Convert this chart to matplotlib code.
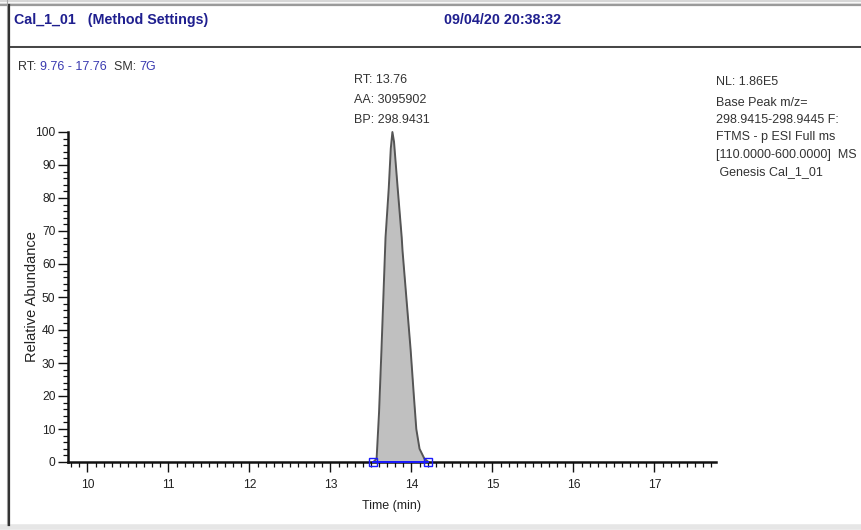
import matplotlib
matplotlib.use("Agg")
import matplotlib.pyplot as plt
from matplotlib.lines import Line2D
from matplotlib.ticker import MultipleLocator
from matplotlib import font_manager

# ---- data ----
peak_time = [13.53, 13.57, 13.60, 13.63, 13.655, 13.68, 13.72, 13.745, 13.765,
             13.785, 13.83, 13.88, 13.89, 13.95, 13.99, 14.03, 14.06, 14.10, 14.16, 14.21]
peak_abund = [0, 1, 15, 34, 51, 68, 83, 95, 100,
              97, 83, 68, 64, 46, 34, 20, 10, 4, 1, 0]
baseline_time = [13.53, 14.21]
x_ticks = [10, 11, 12, 13, 14, 15, 16, 17]
y_ticks = [0, 10, 20, 30, 40, 50, 60, 70, 80, 90, 100]
x_range = (9.76, 17.76)

header_left = "Cal_1_01   (Method Settings)"
header_date = "09/04/20 20:38:32"
peak_labels = ["RT: 13.76", "AA: 3095902", "BP: 298.9431"]
info_lines = ["Base Peak m/z=", "298.9415-298.9445 F:", "FTMS - p ESI Full ms",
              "[110.0000-600.0000]  MS", " Genesis Cal_1_01"]

# narrow font if available
try:
    font_manager.findfont("Liberation Sans Narrow", fallback_to_default=False)
    NARROW = ['Liberation Sans Narrow', 'DejaVu Sans']
    k = 1.0
except Exception:
    NARROW = ['Liberation Sans', 'DejaVu Sans']
    k = 0.82

W, H = 861, 530
plt.rcParams['font.family'] = ['Liberation Sans', 'DejaVu Sans']
fig = plt.figure(figsize=(W / 100, H / 100), dpi=100)
fig.patch.set_facecolor('white')

def fx(x):
    return x / W

def fy(y):
    return 1 - y / H

# ---- frame ----
def hline(y, x0, x1, color, lw):
    fig.add_artist(Line2D([fx(x0), fx(x1)], [fy(y), fy(y)], color=color, lw=lw,
                          transform=fig.transFigure))

def vline(x, y0, y1, color, lw):
    fig.add_artist(Line2D([fx(x), fx(x)], [fy(y0), fy(y1)], color=color, lw=lw,
                          transform=fig.transFigure))

hline(0.5, 0, W, '#d0d0d0', 1.2)
hline(2.5, 0, W, '#e0e0e0', 1.0)
hline(5, 0, W, '#9a9a9a', 1.6)
hline(45.5, 9, W, '#c8c8c8', 0.8)
hline(47.3, 9, W, '#444444', 1.4)
hline(527, 0, W, '#e6e6e6', 4)
vline(7, 0, 525, '#aaaaaa', 0.8)
vline(9, 5, 525, '#333333', 1.6)

# ---- header ----
navy = '#1f1f8f'
fig.text(fx(14), fy(20), header_left, color=navy, fontsize=12.5 * k, fontweight='bold',
         va='center', ha='left', family=NARROW)
fig.text(fx(444), fy(20), header_date, color=navy, fontsize=12.5 * k, fontweight='bold',
         va='center', ha='left', family=NARROW)

# ---- RT / SM line with mixed colours ----
dark = '#333333'
blue = '#3a3ab0'
pieces = [("RT: ", dark), ("9.76 - 17.76", blue), ("  SM: ", dark), ("7G", blue)]
renderer = fig.canvas.get_renderer()
xpos = 18
for txt, col in pieces:
    t = fig.text(fx(xpos), fy(67), txt, color=col, fontsize=11 * k, va='center',
                 ha='left', family=NARROW)
    bb = t.get_window_extent(renderer=renderer)
    xpos += bb.width

# ---- axes ----
ax = fig.add_axes([fx(68), fy(462), fx(716) - fx(68), fy(132) - fy(462)])
ax.set_xlim(*x_range)
ax.set_ylim(0, 100)
ax.fill_between(peak_time, peak_abund, 0, color='#c0c0c0', lw=0, clip_on=False)
ax.plot(peak_time, peak_abund, color='#555555', lw=1.4, clip_on=False)
ax.plot(baseline_time, [0, 0], color='#1a1aff', lw=1.4, clip_on=False, zorder=5)
ax.plot(baseline_time, [0, 0], ls='none', marker='s', ms=5.5, mfc='none',
        mec='#1a1aff', mew=1.0, clip_on=False, zorder=6)

for s in ['top', 'right']:
    ax.spines[s].set_visible(False)
for s in ['left', 'bottom']:
    ax.spines[s].set_linewidth(1.8)
    ax.spines[s].set_color('#111111')

ax.set_xticks(x_ticks)
ax.set_yticks(y_ticks)
ax.xaxis.set_minor_locator(MultipleLocator(0.1))
ax.yaxis.set_minor_locator(MultipleLocator(2))
ax.tick_params(axis='both', which='major', direction='out', length=7, width=1.0,
               color='#111111', labelsize=10.5 * k, labelcolor='#222222', pad=2)
ax.tick_params(axis='both', which='minor', direction='out', length=3.5, width=0.9,
               color='#111111')
ax.tick_params(axis='x', which='major', pad=5)
for lab in ax.get_xticklabels() + ax.get_yticklabels():
    lab.set_family(NARROW)

ax.set_xlabel("Time (min)", fontsize=11 * k, color='#222222', labelpad=8, family=NARROW)
ax.xaxis.set_label_coords(0.5, (fy(506) - fy(462)) / (fy(132) - fy(462)))
ax.set_ylabel("Relative Abundance", fontsize=10.5, color='#222222')
ax.yaxis.set_label_coords((fx(32) - fx(68)) / (fx(716) - fx(68)), 0.5)
ax.yaxis.label.set_va('center')
ax.xaxis.label.set_va('center')

# ---- peak annotation ----
for i, s in enumerate(peak_labels):
    fig.text(fx(354), fy(80 + i * 20), s, color=dark, fontsize=11 * k, va='center',
             ha='left', family=NARROW)

# ---- right info block ----
fig.text(fx(716), fy(82), "NL: 1.86E5", color=dark, fontsize=11 * k, va='center',
         ha='left', family=NARROW)
for i, s in enumerate(info_lines):
    fig.text(fx(716), fy(103 + i * 17.2), s, color=dark, fontsize=11 * k, va='center',
             ha='left', family=NARROW)

fig.savefig("out.png", dpi=100, facecolor='white')
